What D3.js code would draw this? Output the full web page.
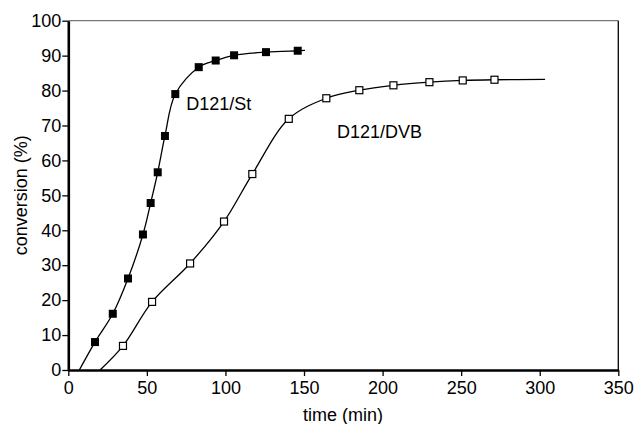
<!DOCTYPE html>
<html>
<head>
<meta charset="utf-8">
<script src="https://cdn.jsdelivr.net/npm/d3@7"></script>
<style>
  body { margin: 0; background: #fff; }
  svg { display: block; font-family: Arial, "Liberation Sans", sans-serif; }
</style>
</head>
<body>
<div class="graph"></div>
<script>
// measured points, D121/St (filled squares)
var stTime = [17, 28.3, 38, 47.5, 52.4, 56.9, 61.5, 68.1, 83, 93.8, 105.5, 125.8, 146]
var stConv = [8, 16.1, 26.2, 38.8, 47.8, 56.6, 67.0, 79.0, 86.7, 88.6, 90.1, 91.0, 91.4]
// measured points, D121/DVB (open squares)
var dvbTime = [34.8, 53.3, 77.5, 99.1, 117.1, 140.3, 164.2, 185.2, 206.9, 229.8, 251, 271.2]
var dvbConv = [6.9, 19.5, 30.5, 42.5, 56.1, 71.9, 77.8, 80.1, 81.5, 82.4, 82.9, 83.1]
// where the fitted curves start and stop
var stFitStart = [7, 0], stFitEnd = [150.6, 91.5]
var dvbFitStart = [20.2, 0], dvbFitEnd = [303.4, 83.2]

var xTicks = [0, 50, 100, 150, 200, 250, 300, 350]
var yTicks = [0, 10, 20, 30, 40, 50, 60, 70, 80, 90, 100]

var width = 636, height = 424

var x = d3.scaleLinear().domain([0, 350]).range([68.3, 618.3])
var y = d3.scaleLinear().domain([0, 100]).range([370, 20.7])

var svg = d3.select('.graph').append('svg')
    .attr('width', width)
    .attr('height', height)

// frame: thin top, thin right
svg.append('line')
    .attr('x1', x(0)).attr('x2', x(350))
    .attr('y1', y(100)).attr('y2', y(100))
    .attr('stroke', '#555').attr('stroke-width', 1)
svg.append('line')
    .attr('x1', x(350)).attr('x2', x(350))
    .attr('y1', y(100)).attr('y2', y(0))
    .attr('stroke', '#000').attr('stroke-width', 1.3)

var xAxis = svg.append('g')
    .attr('transform', `translate(0,${y(0)})`)
    .call(d3.axisBottom(x).tickValues(xTicks).tickSize(6).tickPadding(5).tickSizeOuter(0))
var yAxis = svg.append('g')
    .attr('transform', `translate(${x(0)},0)`)
    .call(d3.axisLeft(y).tickValues(yTicks).tickSize(6).tickPadding(1).tickSizeOuter(0))

for (let ax of [xAxis, yAxis]) {
    ax.select('.domain').attr('stroke', '#000').attr('stroke-width', 2.6)
    ax.selectAll('.tick line').attr('stroke', '#000').attr('stroke-width', 1.3)
    ax.selectAll('.tick text')
	.attr('fill', '#000')
	.style('font-size', '18px')
	.style('font-family', 'Arial, "Liberation Sans", sans-serif')
}

// axis titles
svg.append('text')
    .attr('x', 343).attr('y', 421)
    .attr('text-anchor', 'middle')
    .style('font-size', '18px')
    .text('time (min)')
svg.append('text')
    .attr('transform', `translate(27,${(y(0) + y(100)) / 2}) rotate(-90)`)
    .attr('text-anchor', 'middle')
    .style('font-size', '18px')
    .text('conversion (%)')

var line = d3.line()
    .x(d => x(d[0]))
    .y(d => y(d[1]))
    .curve(d3.curveCatmullRom.alpha(0.5))

function series(tt, cc, start, end) {
    var pts = tt.map((t, i) => [t, cc[i]])
    return [start].concat(pts, [end])
}

var stPts = stTime.map((t, i) => [t, stConv[i]])
var dvbPts = dvbTime.map((t, i) => [t, dvbConv[i]])

svg.append('path')
    .attr('d', line(series(stTime, stConv, stFitStart, stFitEnd)))
    .attr('fill', 'none').attr('stroke', '#000').attr('stroke-width', 1.3)
svg.append('path')
    .attr('d', line(series(dvbTime, dvbConv, dvbFitStart, dvbFitEnd)))
    .attr('fill', 'none').attr('stroke', '#000').attr('stroke-width', 1.3)

// markers
var s1 = 8, s2 = 7
svg.append('g').selectAll('rect')
    .data(stPts).join('rect')
    .attr('x', d => x(d[0]) - s1 / 2)
    .attr('y', d => y(d[1]) - s1 / 2)
    .attr('width', s1).attr('height', s1)
    .attr('fill', '#000')
svg.append('g').selectAll('rect')
    .data(dvbPts).join('rect')
    .attr('x', d => x(d[0]) - s2 / 2)
    .attr('y', d => y(d[1]) - s2 / 2)
    .attr('width', s2).attr('height', s2)
    .attr('fill', '#fff').attr('stroke', '#000').attr('stroke-width', 1.2)

// series labels
svg.append('text')
    .attr('x', x(75)).attr('y', y(74.5))
    .style('font-size', '18px')
    .text('D121/St')
svg.append('text')
    .attr('x', x(171)).attr('y', y(66.3))
    .style('font-size', '18px')
    .text('D121/DVB')
</script>
</body>
</html>
